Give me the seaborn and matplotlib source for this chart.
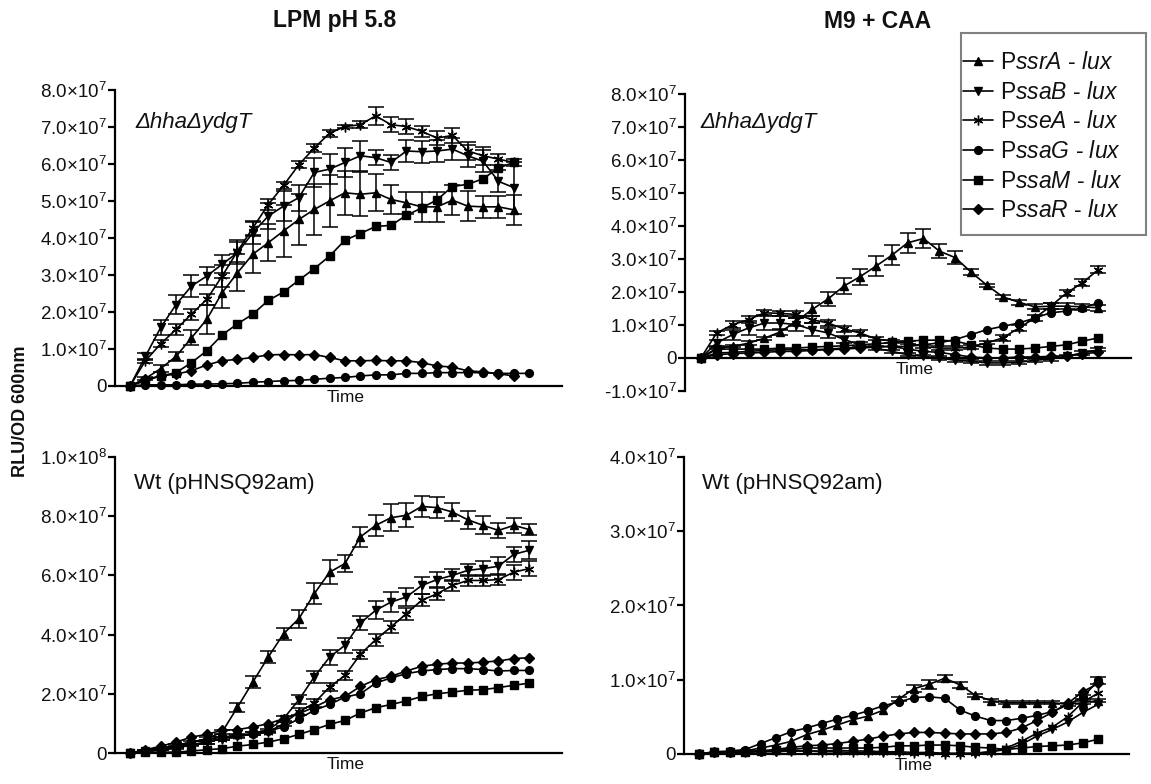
import numpy as np
import pandas as pd
import matplotlib
matplotlib.use("Agg")
import matplotlib.pyplot as plt
from matplotlib.lines import Line2D
from matplotlib.patches import Rectangle
from matplotlib.ticker import FuncFormatter, MultipleLocator
import seaborn as sns

# ---------------------------------------------------------------------------
# Luminescence readings (RLU/OD600, in units of 1e7) for each SPI-2 promoter
# ---------------------------------------------------------------------------
promoters = ["ssrA", "ssaB", "sseA", "ssaG", "ssaM", "ssaR"]

# LPM pH 5.8, ΔhhaΔydgT
lpm_mut_ssrA = [0, 0.2, 0.47, 0.8, 1.3, 1.8, 2.52, 3.06, 3.56, 3.87, 4.19, 4.5, 4.77, 5.0,
                5.22, 5.18, 5.22, 5.04, 4.95, 4.84, 4.84, 5.02, 4.86, 4.84, 4.84, 4.76]
lpm_mut_ssaB = [0, 0.8, 1.58, 2.2, 2.7, 2.97, 3.29, 3.6, 4.14, 4.59, 4.86, 5.09, 5.77, 5.86,
                6.04, 6.22, 6.17, 6.04, 6.35, 6.33, 6.35, 6.4, 6.22, 6.07, 5.53, 5.36]
lpm_mut_sseA = [0, 0.68, 1.14, 1.53, 1.94, 2.34, 2.97, 3.64, 4.27, 4.9, 5.42, 5.98, 6.43, 6.83,
                7.01, 7.06, 7.3, 7.06, 7.01, 6.88, 6.7, 6.77, 6.35, 6.22, 6.13, 6.04]
lpm_mut_ssaG = [0, 0.03, 0.03, 0.03, 0.05, 0.05, 0.06, 0.07, 0.1, 0.12, 0.14, 0.15, 0.18, 0.21,
                0.23, 0.27, 0.3, 0.3, 0.34, 0.34, 0.36, 0.36, 0.36, 0.36, 0.34, 0.34, 0.34]
lpm_mut_ssaM = [0, 0.14, 0.27, 0.36, 0.63, 0.95, 1.38, 1.68, 1.94, 2.31, 2.54, 2.86, 3.17, 3.51,
                3.94, 4.12, 4.31, 4.34, 4.61, 4.81, 5.03, 5.39, 5.45, 5.6, 5.89, 6.04]
lpm_mut_ssaR = [0, 0.18, 0.27, 0.32, 0.41, 0.57, 0.68, 0.72, 0.77, 0.84, 0.85, 0.84, 0.85, 0.77,
                0.68, 0.68, 0.69, 0.68, 0.68, 0.63, 0.54, 0.51, 0.41, 0.38, 0.33, 0.27]
lpm_mut_err_ssrA = [0, 0.05, 0.1, 0.12, 0.2, 0.4, 0.4, 0.5, 0.5, 0.5, 0.7, 0.7, 0.7, 0.7,
                    0.6, 0.6, 0.5, 0.4, 0.3, 0.4, 0.4, 0.4, 0.4, 0.3, 0.3, 0.4]
lpm_mut_err_ssaB = [0, 0.1, 0.2, 0.25, 0.3, 0.25, 0.25, 0.3, 0.3, 0.35, 0.4, 0.35, 0.4, 0.4,
                    0.4, 0.4, 0.2, 0.2, 0.3, 0.3, 0.3, 0.3, 0.3, 0.3, 0.3, 0.7]
lpm_mut_err_sseA = [0, 0.05, 0.1, 0.15, 0.15, 0.15, 0.3, 0.3, 0.2, 0.15, 0.1, 0.1, 0.1, 0.1,
                    0.05, 0.1, 0.25, 0.2, 0.2, 0.15, 0.2, 0.2, 0.25, 0.25, 0.15, 0.1]

# M9 + CAA, ΔhhaΔydgT
m9_mut_ssrA = [0, 0.3, 0.35, 0.45, 0.6, 0.79, 1.11, 1.47, 1.79, 2.18, 2.46, 2.78, 3.11, 3.49,
               3.62, 3.24, 3.04, 2.6, 2.2, 1.85, 1.69, 1.55, 1.57, 1.57, 1.55, 1.52]
m9_mut_ssaB = [0, 0.46, 0.71, 0.91, 1.06, 1.06, 1.01, 0.86, 0.76, 0.56, 0.4, 0.3, 0.2, 0.1,
               0.05, 0.0, -0.07, -0.1, -0.15, -0.15, -0.13, -0.07, -0.03, 0.05, 0.15, 0.25]
m9_mut_sseA = [0, 0.76, 1.01, 1.16, 1.37, 1.35, 1.32, 1.16, 1.06, 0.88, 0.76, 0.58, 0.51, 0.46,
               0.35, 0.3, 0.3, 0.33, 0.46, 0.61, 0.91, 1.21, 1.57, 1.97, 2.28, 2.68]
m9_mut_ssaG = [0, 0.15, 0.17, 0.2, 0.23, 0.25, 0.25, 0.25, 0.27, 0.3, 0.33, 0.35, 0.35, 0.35,
               0.4, 0.46, 0.56, 0.71, 0.86, 0.96, 1.06, 1.21, 1.37, 1.42, 1.52, 1.67]
m9_mut_ssaM = [0, 0.27, 0.27, 0.27, 0.27, 0.3, 0.3, 0.33, 0.35, 0.37, 0.4, 0.43, 0.47, 0.51,
               0.54, 0.54, 0.51, 0.4, 0.3, 0.27, 0.27, 0.3, 0.35, 0.4, 0.51, 0.61]
m9_mut_ssaR = [0, 0.1, 0.13, 0.15, 0.17, 0.2, 0.2, 0.23, 0.25, 0.27, 0.3, 0.33, 0.35, 0.27,
               0.2, 0.17, 0.1, 0.03, 0.0, 0.0, 0.03, 0.03, 0.05, 0.07, 0.13, 0.17]
m9_mut_err_ssrA = [0, 0.03, 0.03, 0.05, 0.05, 0.08, 0.15, 0.2, 0.2, 0.25, 0.25, 0.3, 0.3, 0.3,
                   0.3, 0.2, 0.2, 0.1, 0.05, 0.05, 0.08, 0.08, 0.1, 0.1, 0.1, 0.1]
m9_mut_err_ssaB = [0, 0.1, 0.15, 0.2, 0.2, 0.2, 0.2, 0.2, 0.15, 0.1, 0.08, 0.05, 0.05, 0.05,
                   0.05, 0.05, 0.05, 0.05, 0.05, 0.05, 0.05, 0.05, 0.05, 0.05, 0.05, 0.05]
m9_mut_err_sseA = [0, 0.05, 0.1, 0.1, 0.08, 0.08, 0.1, 0.1, 0.1, 0.1, 0.08, 0.05, 0.05, 0.05,
                   0.05, 0.05, 0.05, 0.05, 0.05, 0.1, 0.1, 0.1, 0.1, 0.1, 0.1, 0.1]

# LPM pH 5.8, Wt (pHNSQ92am)
lpm_wt_ssrA = [0, 0.07, 0.15, 0.26, 0.37, 0.48, 0.71, 1.55, 2.4, 3.24, 4.03, 4.54, 5.38, 6.11,
               6.4, 7.3, 7.69, 7.95, 8.03, 8.33, 8.29, 8.14, 7.88, 7.69, 7.52, 7.69, 7.55]
lpm_wt_ssaB = [0, 0.07, 0.11, 0.2, 0.29, 0.37, 0.48, 0.6, 0.65, 0.77, 1.16, 1.8, 2.57, 3.24,
               3.64, 4.39, 4.82, 5.1, 5.27, 5.66, 5.86, 6.0, 6.17, 6.23, 6.31, 6.71, 6.85]
lpm_wt_sseA = [0, 0.06, 0.11, 0.18, 0.26, 0.37, 0.48, 0.56, 0.65, 0.71, 0.99, 1.39, 1.69, 2.23,
               2.62, 3.33, 3.83, 4.26, 4.71, 5.16, 5.38, 5.66, 5.83, 5.83, 5.86, 6.11, 6.23]
lpm_wt_ssaG = [0, 0.07, 0.15, 0.26, 0.37, 0.45, 0.54, 0.6, 0.65, 0.74, 0.88, 1.16, 1.44, 1.64,
               1.89, 2.0, 2.36, 2.54, 2.68, 2.77, 2.82, 2.85, 2.85, 2.82, 2.77, 2.79, 2.79]
lpm_wt_ssaM = [0, 0.03, 0.03, 0.03, 0.07, 0.11, 0.15, 0.23, 0.29, 0.37, 0.48, 0.63, 0.79, 0.97,
               1.1, 1.35, 1.53, 1.64, 1.76, 1.91, 2.0, 2.06, 2.12, 2.14, 2.21, 2.29, 2.36]
lpm_wt_ssaR = [0, 0.11, 0.23, 0.37, 0.54, 0.63, 0.77, 0.79, 0.88, 0.99, 1.16, 1.33, 1.55, 1.8,
               1.91, 2.25, 2.48, 2.59, 2.77, 2.93, 3.0, 3.04, 3.04, 3.07, 3.11, 3.19, 3.22]
lpm_wt_err_ssrA = [0, 0.02, 0.03, 0.05, 0.05, 0.05, 0.08, 0.15, 0.2, 0.2, 0.2, 0.3, 0.35, 0.4,
                   0.3, 0.35, 0.35, 0.45, 0.4, 0.35, 0.35, 0.3, 0.3, 0.3, 0.25, 0.25, 0.2]
lpm_wt_err_ssaB = [0, 0.02, 0.02, 0.03, 0.03, 0.05, 0.05, 0.05, 0.05, 0.05, 0.1, 0.15, 0.2, 0.25,
                   0.25, 0.25, 0.3, 0.35, 0.3, 0.3, 0.25, 0.2, 0.2, 0.25, 0.3, 0.25, 0.3]
lpm_wt_err_sseA = [0, 0.02, 0.02, 0.03, 0.03, 0.05, 0.05, 0.05, 0.05, 0.05, 0.08, 0.12, 0.15, 0.15,
                   0.15, 0.15, 0.2, 0.2, 0.2, 0.2, 0.2, 0.2, 0.2, 0.2, 0.2, 0.25, 0.25]

# M9 + CAA, Wt (pHNSQ92am)
m9_wt_ssrA = [0, 0.02, 0.03, 0.04, 0.08, 0.12, 0.17, 0.26, 0.32, 0.39, 0.46, 0.51, 0.59, 0.74,
              0.88, 0.94, 1.02, 0.93, 0.79, 0.72, 0.69, 0.69, 0.69, 0.69, 0.67, 0.69, 0.72]
m9_wt_ssaB = [0, 0.02, 0.02, 0.02, 0.03, 0.03, 0.04, 0.04, 0.04, 0.05, 0.04, 0.04, 0.03, 0.03,
              0.02, 0.02, 0.01, 0.01, 0.01, 0.03, 0.06, 0.13, 0.24, 0.33, 0.43, 0.56, 0.67]
m9_wt_sseA = [0, 0.02, 0.02, 0.03, 0.04, 0.04, 0.04, 0.04, 0.03, 0.03, 0.02, 0.02, 0.02, 0.02,
              0.01, 0.01, 0.0, 0.0, 0.01, 0.03, 0.08, 0.17, 0.28, 0.36, 0.5, 0.7, 0.82]
m9_wt_ssaG = [0, 0.03, 0.04, 0.06, 0.14, 0.22, 0.3, 0.35, 0.41, 0.47, 0.52, 0.58, 0.65, 0.7,
              0.76, 0.77, 0.75, 0.59, 0.51, 0.45, 0.45, 0.48, 0.52, 0.57, 0.66, 0.77, 0.99]
m9_wt_ssaM = [0, 0.02, 0.03, 0.03, 0.04, 0.05, 0.06, 0.08, 0.08, 0.08, 0.08, 0.08, 0.09, 0.11,
              0.11, 0.12, 0.12, 0.11, 0.09, 0.08, 0.06, 0.08, 0.1, 0.11, 0.12, 0.15, 0.2]
m9_wt_ssaR = [0, 0.02, 0.03, 0.04, 0.04, 0.06, 0.09, 0.11, 0.12, 0.14, 0.17, 0.2, 0.24, 0.27,
              0.29, 0.29, 0.28, 0.27, 0.27, 0.27, 0.29, 0.35, 0.45, 0.56, 0.68, 0.84, 0.95]
m9_wt_err_ssrA = [0, 0, 0, 0, 0, 0, 0, 0, 0, 0, 0, 0, 0, 0.03,
                  0.05, 0.06, 0.05, 0.04, 0.02, 0.02, 0.02, 0.02, 0.02, 0.02, 0.02, 0.02, 0.02]
m9_wt_err_ssaG = [0, 0, 0, 0, 0, 0, 0, 0, 0, 0, 0, 0, 0, 0,
                  0, 0, 0, 0, 0, 0, 0, 0, 0, 0, 0, 0.03, 0.05]

UNIT = 1e7

panels = [
    dict(name="lpm_mut", series=[lpm_mut_ssrA, lpm_mut_ssaB, lpm_mut_sseA,
                                 lpm_mut_ssaG, lpm_mut_ssaM, lpm_mut_ssaR],
         errs={"ssrA": lpm_mut_err_ssrA, "ssaB": lpm_mut_err_ssaB, "sseA": lpm_mut_err_sseA},
         rect=[0.0999, 0.5077, 0.3884, 0.3776], xlim=(-0.98, 28.14), ylim=(0, 8e7),
         step=1e7, label="ΔhhaΔydgT", italic=True, zero_spine=False, tpos=(0.045, 0.89)),
    dict(name="m9_mut", series=[m9_mut_ssrA, m9_mut_ssaB, m9_mut_sseA,
                                m9_mut_ssaG, m9_mut_ssaM, m9_mut_ssaR],
         errs={"ssrA": m9_mut_err_ssrA, "ssaB": m9_mut_err_ssaB, "sseA": m9_mut_err_sseA},
         rect=[0.5951, 0.5013, 0.3875, 0.3788], xlim=(-1.0, 27.05), ylim=(-1e7, 8e7),
         step=1e7, label="ΔhhaΔydgT", italic=True, zero_spine=True, tpos=(0.035, 0.905)),
    dict(name="lpm_wt", series=[lpm_wt_ssrA, lpm_wt_ssaB, lpm_wt_sseA,
                                lpm_wt_ssaG, lpm_wt_ssaM, lpm_wt_ssaR],
         errs={"ssrA": lpm_wt_err_ssrA, "ssaB": lpm_wt_err_ssaB, "sseA": lpm_wt_err_sseA},
         rect=[0.0999, 0.0395, 0.3884, 0.3776], xlim=(-0.98, 28.14), ylim=(0, 1e8),
         step=2e7, label="Wt (pHNSQ92am)", italic=False, zero_spine=False, tpos=(0.042, 0.912)),
    dict(name="m9_wt", series=[m9_wt_ssrA, m9_wt_ssaB, m9_wt_sseA,
                               m9_wt_ssaG, m9_wt_ssaM, m9_wt_ssaR],
         errs={"ssrA": m9_wt_err_ssrA, "ssaG": m9_wt_err_ssaG},
         rect=[0.5943, 0.0383, 0.3866, 0.3788], xlim=(-0.98, 28.0), ylim=(0, 4e7),
         step=1e7, label="Wt (pHNSQ92am)", italic=False, zero_spine=False, tpos=(0.04, 0.912)),
]

markers = {"ssrA": "^", "ssaB": "v", "sseA": (6, 2, 0), "ssaG": "o", "ssaM": "s", "ssaR": "D"}
msizes = {"ssrA": 5.8, "ssaB": 5.8, "sseA": 7, "ssaG": 5.6, "ssaM": 5.2, "ssaR": 4.8}

sns.set_theme(style="white")
plt.rcParams["font.family"] = ["Liberation Sans", "DejaVu Sans"]
plt.rcParams["mathtext.fontset"] = "custom"
plt.rcParams["mathtext.rm"] = "Liberation Sans"
plt.rcParams["mathtext.it"] = "Liberation Sans:italic"
plt.rcParams["mathtext.bf"] = "Liberation Sans:bold"


def sci_label(v, _pos):
    if abs(v) < 1:
        return "0"
    exp = int(np.floor(np.log10(abs(v)) + 1e-9))
    mant = v / 10 ** exp
    return f"{mant:.1f}×10$^{{{exp}}}$"


fig = plt.figure(figsize=(11.51, 7.84), dpi=100)
fig.patch.set_facecolor("white")
W, H = 1151, 784

for p in panels:
    ax = fig.add_axes(p["rect"])
    ax.set_facecolor("white")
    frames = []
    for prom, vals in zip(promoters, p["series"]):
        frames.append(pd.DataFrame({"t": np.arange(len(vals)),
                                    "rlu": np.asarray(vals, float) * UNIT,
                                    "promoter": prom}))
    df = pd.concat(frames, ignore_index=True)

    # error bars first so the symbols sit on top of them
    for prom, err in p["errs"].items():
        sub = df[df.promoter == prom]
        e = np.asarray(err, float) * UNIT
        keep = e > 0
        ax.errorbar(sub.t.values[keep], sub.rlu.values[keep], yerr=e[keep], fmt="none",
                    ecolor="black", elinewidth=1.1, capsize=5.5, capthick=1.1,
                    clip_on=False, zorder=2)

    for prom in promoters:
        sub = df[df.promoter == prom]
        sns.lineplot(data=sub, x="t", y="rlu", ax=ax, color="black", linewidth=1.2,
                     marker=markers[prom], markersize=msizes[prom],
                     markeredgecolor="black", markerfacecolor="black",
                     markeredgewidth=1.0, legend=False, clip_on=False, zorder=3)

    ax.set_xlim(*p["xlim"])
    ax.set_ylim(*p["ylim"])
    ax.yaxis.set_major_locator(MultipleLocator(p["step"]))
    ax.yaxis.set_major_formatter(FuncFormatter(sci_label))
    ax.set_xticks([])
    ax.set_xlabel("")
    ax.set_ylabel("")
    for s in ("top", "right"):
        ax.spines[s].set_visible(False)
    for s in ("left", "bottom"):
        ax.spines[s].set_color("black")
        ax.spines[s].set_linewidth(1.6)
    if p["zero_spine"]:
        ax.spines["bottom"].set_position(("data", 0))
    ax.tick_params(axis="y", which="major", direction="out", length=5, width=1.6,
                   color="black", pad=1, labelsize=13.5, labelcolor="#111111", left=True)

    # "Time" sits just under the horizontal axis line
    ax.annotate("Time", xy=(0.515, 0), xycoords=("axes fraction", "data"),
                xytext=(0, -3), textcoords="offset points", ha="center", va="top",
                fontsize=12.5, color="#111111")

    ax.text(p["tpos"][0], p["tpos"][1], p["label"], transform=ax.transAxes,
            ha="left", va="center", fontsize=16,
            fontstyle="italic" if p["italic"] else "normal", color="#111111")

# Column headers and shared axis label
fig.text(335 / W, 1 - 20 / H, "LPM pH 5.8", ha="center", va="center",
         fontsize=16.5, fontweight="bold", color="#111111")
fig.text(878 / W, 1 - 21 / H, "M9 + CAA", ha="center", va="center",
         fontsize=16.5, fontweight="bold", color="#111111")
fig.text(21 / W, 1 - 411 / H, "RLU/OD 600nm", ha="center", va="center",
         rotation=90, fontsize=13, fontweight="bold", color="#111111")

# Legend box drawn as a grey frame, entries placed inside it
box_l, box_r, box_t, box_b = 961, 1146, 33, 235
fig.patches.append(Rectangle((box_l / W, 1 - box_b / H), (box_r - box_l) / W,
                             (box_b - box_t) / H, transform=fig.transFigure,
                             facecolor="white", edgecolor="#808080", linewidth=1.5,
                             zorder=5))
handles = [Line2D([0], [0], color="black", linewidth=1.2, marker=markers[pm],
                  markersize=msizes[pm], markerfacecolor="black", markeredgecolor="black",
                  markeredgewidth=1.0) for pm in promoters]
labels = [f"P$\\it{{{pm}}}$ - $\\it{{lux}}$" for pm in promoters]
leg = fig.legend(handles, labels, loc="upper left",
                 bbox_to_anchor=(963 / W, 1 - 51 / H), frameon=False,
                 fontsize=16.5, handlelength=1.3, handletextpad=0.3,
                 labelspacing=0.29, borderpad=0, borderaxespad=0)
leg.set_zorder(6)
for t in leg.get_texts():
    t.set_color("#111111")

fig.savefig("out.png", dpi=100, facecolor="white")
